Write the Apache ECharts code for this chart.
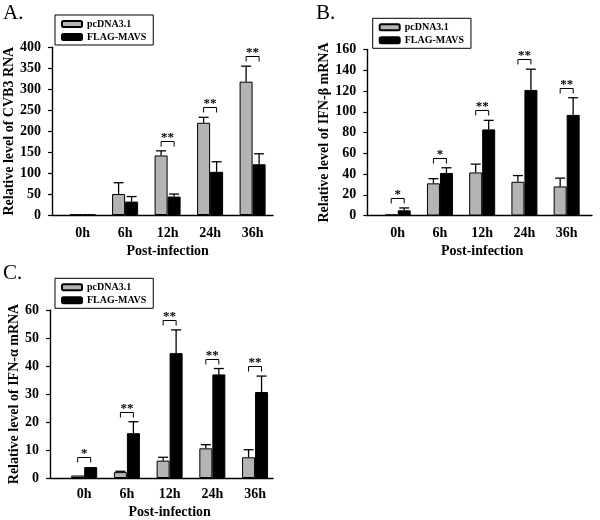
<!DOCTYPE html>
<html><head><meta charset="utf-8">
<script src="https://cdn.jsdelivr.net/npm/echarts@6/dist/echarts.min.js"></script>
<style>html,body{margin:0;padding:0;background:#fff}#c{width:600px;height:520px}</style>
</head><body><div id="c"></div>
<script>
const categories = ['0h', '6h', '12h', '24h', '36h'];
const seriesNames = ['pcDNA3.1', 'FLAG-MAVS'];

// Panel A: CVB3 RNA
const cvb3Control = [1, 50, 142, 220, 318];
const cvb3ControlErr = [0, 27, 11, 13, 37];
const cvb3Mavs = [1, 32, 44, 103, 121];
const cvb3MavsErr = [0, 12, 6, 24, 25];
const cvb3Sig = ['', '', '**', '**', '**'];
const cvb3Ticks = [0, 50, 100, 150, 200, 250, 300, 350, 400];

// Panel B: IFN-beta mRNA
const ifnbControl = [1, 31, 41.5, 32.5, 28];
const ifnbControlErr = [0.3, 4.5, 8, 6, 8];
const ifnbMavs = [5, 41, 83, 121, 97];
const ifnbMavsErr = [2.3, 5, 8.7, 20, 16.5];
const ifnbSig = ['*', '*', '**', '**', '**'];
const ifnbTicks = [0, 20, 40, 60, 80, 100, 120, 140, 160];

// Panel C: IFN-alpha mRNA
const ifnaControl = [0.9, 2.1, 6.2, 10.6, 7.4];
const ifnaControlErr = [0.1, 0.3, 1.2, 1.3, 2.7];
const ifnaMavs = [3.9, 16, 44.6, 37, 30.7];
const ifnaMavsErr = [0.2, 4.1, 8.3, 2.1, 5.7];
const ifnaSig = ['*', '**', '**', '**', '**'];
const ifnaTicks = [0, 10, 20, 30, 40, 50, 60];

const FONT = "'Liberation Serif', 'Times New Roman', serif";
const BAR_W = 13;
const GRAY = '#b4b4b4';
const AXIS_LINE = { color: '#000', width: 1.4 };

// lead: gap (in category widths) between the y axis and the first category centre; span: axis length in category widths
const panels = [
  { letter: 'A.', yName: 'Relative level of CVB3 RNA', ticks: cvb3Ticks,
    control: cvb3Control, controlErr: cvb3ControlErr, mavs: cvb3Mavs, mavsErr: cvb3MavsErr, sig: cvb3Sig,
    grid: { left: 52, top: 47.3, width: 221, height: 167.7 }, lead: 0.72, span: 5.2,
    yNameGap: 35, xLabelMargin: 11, xNameGap: 29,
    legend: { left: 55, top: 15 }, letterPos: { left: 3, top: 3 } },
  { letter: 'B.', yName: 'Relative level of IFN-\u03b2 mRNA', ticks: ifnbTicks,
    control: ifnbControl, controlErr: ifnbControlErr, mavs: ifnbMavs, mavsErr: ifnbMavsErr, sig: ifnbSig,
    grid: { left: 367.3, top: 49.5, width: 224.7, height: 166 }, lead: 0.72, span: 5.32,
    yNameGap: 35, xLabelMargin: 11, xNameGap: 29,
    legend: { left: 372.7, top: 18.3 }, letterPos: { left: 316, top: 3 } },
  { letter: 'C.', yName: 'Relative level of IFN-\u03b1 mRNA', ticks: ifnaTicks,
    control: ifnaControl, controlErr: ifnaControlErr, mavs: ifnaMavs, mavsErr: ifnaMavsErr, sig: ifnaSig,
    grid: { left: 50, top: 310, width: 223, height: 169.3 }, lead: 0.8, span: 5.22,
    yNameGap: 26, xLabelMargin: 9, xNameGap: 27,
    legend: { left: 55, top: 278.3 }, letterPos: { left: 3, top: 263 } }
];

function makeRenderer(p) {
  return function (params, api) {
    const x = api.value(0);
    const gv = api.value(1), ge = api.value(2), bv = api.value(3), be = api.value(4);
    const sig = p.sig[params.dataIndex];
    const c = api.coord([x, 0]);
    const xg = c[0] - BAR_W / 2, xb = c[0] + BAR_W / 2;
    const yg0 = api.coord([x, gv])[1], yg1 = api.coord([x, gv + ge])[1];
    const yb0 = api.coord([x, bv])[1], yb1 = api.coord([x, bv + be])[1];
    const ls = { stroke: '#000', lineWidth: 1.3 };
    const children = [];
    [[xg, yg0, yg1], [xb, yb0, yb1]].forEach(function (a) {
      if (a[1] - a[2] < 0.6) return;
      children.push({ type: 'line', shape: { x1: a[0], y1: a[1], x2: a[0], y2: a[2] }, style: ls });
      children.push({ type: 'line', shape: { x1: a[0] - 5, y1: a[2], x2: a[0] + 5, y2: a[2] }, style: ls });
    });
    if (sig) {
      const top = Math.round(Math.min(yg1, yb1) - 10) + 0.5;
      children.push({ type: 'polyline', shape: { points: [[xg, top + 5], [xg, top], [xb, top], [xb, top + 5]] },
        style: { stroke: '#000', lineWidth: 1, fill: null } });
      children.push({ type: 'text', style: { text: sig, x: c[0], y: top + 3, align: 'center', verticalAlign: 'bottom',
        font: 'bold 13px ' + FONT, fill: '#000' } });
    }
    return { type: 'group', children: children };
  };
}

const option = { animation: false, backgroundColor: '#fff', grid: [], xAxis: [], yAxis: [], series: [], legend: [], graphic: [] };

panels.forEach(function (p, k) {
  option.grid.push(Object.assign({ containLabel: false }, p.grid));
  const pos = categories.map(function (_, i) { return i + p.lead; });
  const shift = (pos[2] - p.span / 2) * p.grid.width / p.span;
  option.xAxis.push({
    type: 'value', gridIndex: k, min: 0, max: p.span,
    axisLine: { show: true, lineStyle: AXIS_LINE },
    axisTick: { show: false }, splitLine: { show: false },
    axisLabel: { customValues: pos, formatter: function (v) { return categories[Math.round(v - p.lead)]; },
      fontFamily: FONT, fontWeight: 'bold', fontSize: 14, color: '#000', margin: p.xLabelMargin },
    name: 'Post-infection', nameLocation: 'middle', nameGap: p.xNameGap,
    nameTextStyle: { fontFamily: FONT, fontWeight: 'bold', fontSize: 14, color: '#000',
      padding: shift > 0 ? [0, 0, 0, 2 * shift] : [0, -2 * shift, 0, 0] }
  });
  option.yAxis.push({
    type: 'value', gridIndex: k,
    min: p.ticks[0], max: p.ticks[p.ticks.length - 1], interval: p.ticks[1] - p.ticks[0],
    axisLine: { show: true, lineStyle: AXIS_LINE },
    axisTick: { show: true, inside: false, length: 4, lineStyle: { color: '#000', width: 1.2 } },
    splitLine: { show: false },
    axisLabel: { fontFamily: FONT, fontWeight: 'bold', fontSize: 14, color: '#000', margin: 11 },
    name: p.yName, nameLocation: 'middle', nameGap: p.yNameGap, nameRotate: 90,
    nameTextStyle: { fontFamily: FONT, fontWeight: 'bold', fontSize: 14, color: '#000' }
  });
  option.series.push({
    name: seriesNames[0], type: 'bar', xAxisIndex: k, yAxisIndex: k, barWidth: BAR_W, barGap: '0%',
    data: categories.map(function (_, i) { return [pos[i], p.control[i]]; }),
    itemStyle: { color: GRAY, borderColor: '#000', borderWidth: 1 }
  });
  option.series.push({
    name: seriesNames[1], type: 'bar', xAxisIndex: k, yAxisIndex: k, barWidth: BAR_W, barGap: '0%',
    data: categories.map(function (_, i) { return [pos[i], p.mavs[i]]; }),
    itemStyle: { color: '#000', borderColor: '#000', borderWidth: 1 }
  });
  option.series.push({
    type: 'custom', xAxisIndex: k, yAxisIndex: k, z: 5, silent: true,
    data: categories.map(function (_, i) { return [pos[i], p.control[i], p.controlErr[i], p.mavs[i], p.mavsErr[i]]; }),
    encode: { x: 0, y: [1, 3] },
    renderItem: makeRenderer(p)
  });
  option.legend.push({
    left: p.legend.left, top: p.legend.top, orient: 'vertical', data: seriesNames,
    itemWidth: 20, itemHeight: 6, itemGap: 3, itemTextGap: 6, icon: 'roundRect',
    padding: [4, 7, 3, 6], borderColor: '#000', borderWidth: 1, selectedMode: false,
    textStyle: { fontFamily: FONT, fontWeight: 'bold', fontSize: 10, color: '#000' }
  });
  option.graphic.push({
    type: 'text', left: p.letterPos.left, top: p.letterPos.top,
    style: { text: p.letter, font: '21px ' + FONT, fill: '#000' }
  });
});

const chart = echarts.init(document.getElementById('c'), null, { renderer: 'canvas' });
chart.setOption(option);
</script></body></html>
